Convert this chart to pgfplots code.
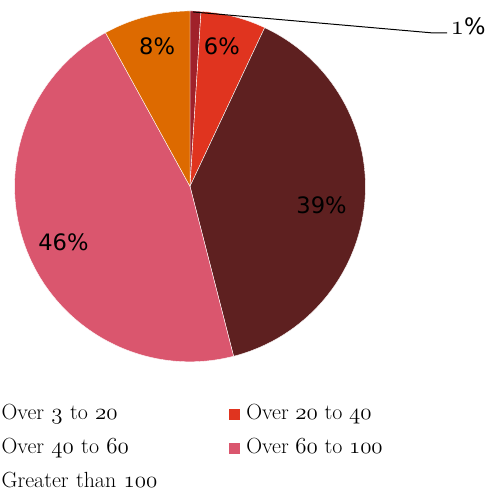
\documentclass[border=0pt]{standalone}
\usepackage{pgfplots}
\pgfplotsset{compat=1.18}
\usepackage{fontspec}
\newfontfamily\djv{DejaVu Sans}
\newcommand\osn[1]{{\usefont{OML}{cmm}{m}{it}#1}}

\definecolor{c1}{HTML}{A0212A}
\definecolor{c2}{HTML}{E0341F}
\definecolor{c3}{HTML}{5E2020}
\definecolor{c4}{HTML}{DA566E}
\definecolor{c5}{HTML}{DD6A00}

\pgfdeclareplotmark{nothing}{}
% one wedge per series: the point is the centre, cum/pct give the angles
\pgfplotsset{
  pie/.style={
    only marks, mark=nothing, scatter,
    visualization depends on={90-3.6*\thisrow{cum} \as \sa},
    visualization depends on={90-3.6*(\thisrow{cum}+\thisrow{pct}) \as \ea},
    scatter/@pre marker code/.code={\fill[#1, draw=white, line width=0.3pt] (0,0) -- (\sa:132pt) arc[start angle=\sa, end angle=\ea, radius=132pt] -- cycle;},
    scatter/@post marker code/.code={},
  },
  nokey/.style={legend image code/.code={}},
  sqkey/.style={legend image code/.code={\fill[#1] (0pt,-3.75pt) rectangle (7.5pt,3.75pt);}},
}

\begin{document}
\begin{tikzpicture}
\begin{axis}[
  set layers,
  width=366.75pt, height=368.25pt, scale only axis,
  xmin=0, xmax=489, ymin=0, ymax=491,
  axis lines=box, axis line style={draw=none}, ticks=none,
  clip=false,
  legend columns=2,
  legend style={at={(axis cs:1,85)}, anchor=north west, draw=none, fill=none,
    inner sep=0pt, outer sep=0pt, row sep=11.5pt,
    font=\fontsize{16.5}{19}\selectfont,
    nodes={inner sep=0pt, text height=11pt, text depth=3pt},
    /tikz/column 1/.style={column sep=0pt},
    /tikz/column 2/.style={column sep=0pt, nodes={text width=171pt}},
    /tikz/column 3/.style={column sep=5.25pt}},
  legend cell align=left,
]
\addplot[pie=c1, nokey] table[row sep=\\] {x y pct cum\\ 190 304 1 0\\};
\addlegendentry{Over \osn{3} to \osn{20}}
\addplot[pie=c2, sqkey=c2] table[row sep=\\] {x y pct cum\\ 190 304 6 1\\};
\addlegendentry{Over \osn{20} to \osn{40}}
\addplot[pie=c3, nokey] table[row sep=\\] {x y pct cum\\ 190 304 39 7\\};
\addlegendentry{Over \osn{40} to \osn{60}}
\addplot[pie=c4, sqkey=c4] table[row sep=\\] {x y pct cum\\ 190 304 46 46\\};
\addlegendentry{Over \osn{60} to \osn{100}}
\addplot[pie=c5, nokey] table[row sep=\\] {x y pct cum\\ 190 304 8 92\\};
\addlegendentry{Greater than \osn{100}}

\begin{pgfonlayer}{axis foreground}
\node[font=\djv\fontsize{17}{19}\selectfont] at (222,445) {6\%};
\node[font=\djv\fontsize{17}{19}\selectfont] at (157,445) {8\%};
\node[font=\djv\fontsize{17}{19}\selectfont] at (322,285) {39\%};
\node[font=\djv\fontsize{17}{19}\selectfont] at (63,248) {46\%};
\draw[black, line width=0.75pt] (193,479) -- (433,458) -- (448,458);
\node[anchor=west, inner sep=1pt] at (450,465) {\fontsize{22}{24}\selectfont\osn{1}\djv\fontsize{17}{19}\selectfont\%};
\end{pgfonlayer}
\end{axis}
\end{tikzpicture}
\end{document}
